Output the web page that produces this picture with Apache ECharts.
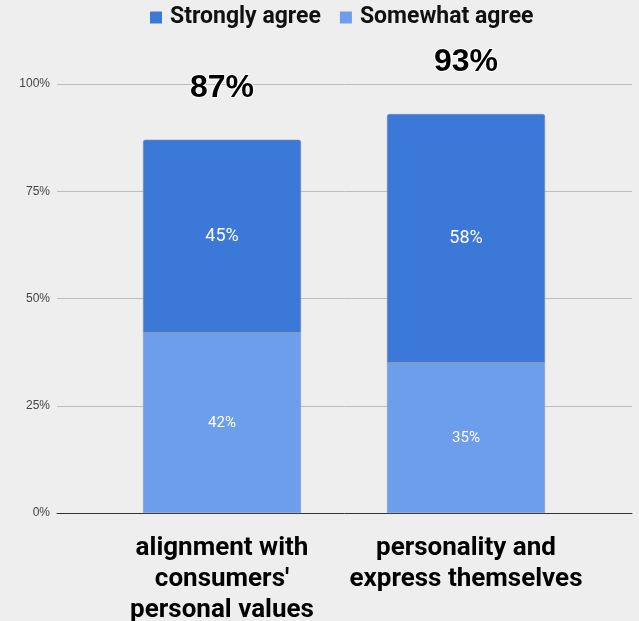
<!DOCTYPE html>
<html>
<head>
<meta charset="utf-8">
<script src="https://cdn.jsdelivr.net/npm/echarts@6/dist/echarts.min.js"></script>
<style>
  html, body { margin: 0; padding: 0; background: #eeeeee; }
  #main { width: 639px; height: 621px; }
</style>
</head>
<body>
<div id="main"></div>
<script>
// chart data
var categories = ["alignment with\nconsumers'\npersonal values", 'personality and\nexpress themselves'];
var somewhatAgree = [42, 35];
var stronglyAgree = [45, 58];
var totals = [87, 93];
var yTicks = [0, 25, 50, 75, 100];

var chart = echarts.init(document.getElementById('main'), null, { renderer: 'canvas' });

var option = {
  backgroundColor: '#eeeeee',
  animation: false,
  legend: {
    top: 1,
    left: 145,
    icon: 'rect',
    itemWidth: 12,
    itemHeight: 12,
    itemGap: 19,
    data: ['Strongly agree', 'Somewhat agree'],
    itemStyle: { borderWidth: 0 },
    textStyle: { fontFamily: 'Roboto', fontWeight: 'bold', fontSize: 23, color: '#111', padding: [0, 0, 0, 3] }
  },
  grid: [
    { left: 57, right: 7, top: 84, bottom: 108, outerBoundsMode: 'none', containLabel: false },   // full width: gridlines + y labels
    { left: 100, right: 51, top: 84, bottom: 108, outerBoundsMode: 'none', containLabel: false }  // bars
  ],
  xAxis: [{
    gridIndex: 0,
    type: 'category',
    data: [''],
    axisLine: { show: true, lineStyle: { color: '#333', width: 1 } },
    axisTick: { show: false },
    axisLabel: { show: false }
  }, {
    gridIndex: 1,
    type: 'category',
    data: categories,
    axisLine: { show: false },
    axisTick: { show: false },
    axisLabel: {
      interval: 0,
      margin: 20,
      fontFamily: 'Roboto',
      fontWeight: 'bold',
      fontSize: 26,
      lineHeight: 31,
      color: '#000'
    }
  }],
  yAxis: [{
    gridIndex: 0,
    type: 'value',
    min: yTicks[0],
    max: yTicks[yTicks.length - 1],
    interval: 25,
    axisLine: { show: false },
    axisTick: { show: false },
    axisLabel: { formatter: '{value}%', fontSize: 12, color: '#444', margin: 7, fontFamily: 'Liberation Sans' },
    splitLine: { lineStyle: { color: '#bdbdbd', width: 1 } }
  }, {
    gridIndex: 1,
    type: 'value',
    min: 0,
    max: 100,
    show: false,
    splitLine: { show: false }
  }],
  series: [{
    name: 'Somewhat agree',
    type: 'bar',
    stack: 'total',
    xAxisIndex: 1,
    yAxisIndex: 1,
    barWidth: 158,
    data: somewhatAgree,
    itemStyle: { color: '#6d9eeb', borderColor: '#9e9e9e', borderWidth: 0.5 },
    label: {
      show: true,
      position: 'inside',
      formatter: '{c}%',
      color: '#fff',
      fontSize: 15,
      fontFamily: 'Roboto'
    }
  }, {
    name: 'Strongly agree',
    type: 'bar',
    stack: 'total',
    xAxisIndex: 1,
    yAxisIndex: 1,
    barWidth: 158,
    data: stronglyAgree,
    itemStyle: { color: '#3c78d8', borderColor: '#7a8aa0', borderWidth: 0.5, borderRadius: [2, 2, 0, 0] },
    label: {
      show: true,
      position: 'inside',
      formatter: '{c}%',
      color: '#fff',
      fontSize: 18,
      fontFamily: 'Roboto'
    }
  }, {
    // totals above the bars
    name: 'Total',
    type: 'bar',
    stack: 'total',
    xAxisIndex: 1,
    yAxisIndex: 1,
    barWidth: 158,
    data: [0, 0],
    itemStyle: { color: 'transparent' },
    label: {
      show: true,
      position: 'top',
      distance: 36,
      formatter: function (p) { return totals[p.dataIndex] + '%'; },
      color: '#000',
      fontSize: 32,
      fontWeight: 'bold',
      fontFamily: 'Liberation Sans',
      textBorderColor: '#fff',
      textBorderWidth: 2
    },
    tooltip: { show: false }
  }]
};

chart.setOption(option);
</script>
</body>
</html>
